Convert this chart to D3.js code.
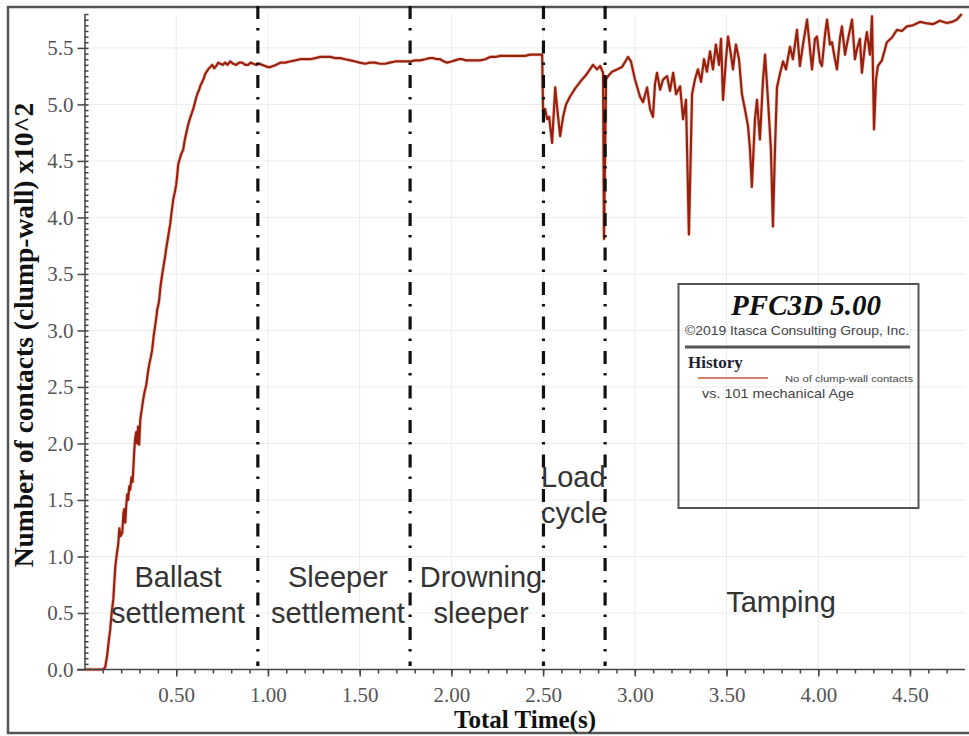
<!DOCTYPE html>
<html>
<head>
<meta charset="utf-8">
<script src="https://cdn.jsdelivr.net/npm/d3@7"></script>
<style>
  html, body { margin: 0; padding: 0; background: #fff; }
  svg { display: block; }
</style>
</head>
<body>
<div id="chart"></div>
<script>
// ---------------- DATA ----------------
const xTicks = [0.5, 1.0, 1.5, 2.0, 2.5, 3.0, 3.5, 4.0, 4.5];
const yTicks = [0.0, 0.5, 1.0, 1.5, 2.0, 2.5, 3.0, 3.5, 4.0, 4.5, 5.0, 5.5];
const phaseTimes = [0.945, 1.775, 2.502, 2.838];
const phaseLabels = [
  ["Ballast", "settlement"],
  ["Sleeper", "settlement"],
  ["Drowning", "sleeper"],
  ["Load", "cycle"],
  ["Tamping"]
];
const legendTitle = "PFC3D 5.00";
const legendCopyright = "\u00A92019 Itasca Consulting Group, Inc.";
const legendHistory = "History";
const legendSeries = "No of clump-wall contacts";
const legendVs = "vs. 101 mechanical Age";
const xTitle = "Total Time(s)";
const yTitle = "Number of contacts (clump-wall) x10^2";

// time (s)
const seriesTime = [
  0, 0.10, 0.113, 0.124, 0.132, 0.140, 0.148, 0.157, 0.163, 0.168, 0.176, 0.184, 0.190, 0.196, 0.206, 0.212,
  0.217, 0.222, 0.228, 0.233, 0.238, 0.244, 0.249, 0.256, 0.262, 0.266, 0.270, 0.276, 0.282, 0.287, 0.292,
  0.298, 0.304, 0.312, 0.320, 0.328, 0.337, 0.345, 0.353, 0.361, 0.369, 0.377, 0.386, 0.392, 0.397, 0.402,
  0.407, 0.415, 0.424, 0.430, 0.435, 0.440, 0.445, 0.455, 0.467, 0.475, 0.484, 0.492, 0.500, 0.506, 0.511,
  0.518, 0.527, 0.538, 0.546, 0.554, 0.565, 0.574, 0.582, 0.593, 0.601, 0.609, 0.617, 0.625, 0.633, 0.642,
  0.650, 0.658, 0.666, 0.674, 0.685, 0.696, 0.707, 0.718, 0.729, 0.740, 0.753, 0.767, 0.780, 0.794, 0.810,
  0.827, 0.843, 0.860, 0.876, 0.892, 0.906, 0.920, 0.936, 0.952, 0.968, 0.985, 1.000, 1.012, 1.028, 1.045,
  1.070, 1.094, 1.120, 1.149, 1.175, 1.203, 1.230, 1.258, 1.285, 1.312, 1.340, 1.367, 1.395, 1.421, 1.450,
  1.476, 1.500, 1.530, 1.556, 1.584, 1.610, 1.639, 1.665, 1.693, 1.720, 1.748, 1.775, 1.802, 1.830, 1.857,
  1.880, 1.901, 1.920, 1.939, 1.960, 1.977, 2.000, 2.020, 2.040, 2.059, 2.080, 2.102, 2.130, 2.157, 2.185,
  2.211, 2.240, 2.266, 2.293, 2.320, 2.348, 2.375, 2.402, 2.429, 2.456, 2.484, 2.495,
  2.500, 2.511, 2.522, 2.533, 2.549, 2.566, 2.576, 2.593, 2.609, 2.625, 2.647, 2.674, 2.702, 2.734, 2.772,
  2.794, 2.811, 2.827, 2.832, 2.843, 2.854, 2.876, 2.903, 2.930, 2.963, 2.979, 3.001, 3.028, 3.045, 3.067,
  3.083, 3.099, 3.110, 3.121, 3.138, 3.154, 3.176, 3.192, 3.209, 3.225, 3.247, 3.263, 3.279, 3.295, 3.312,
  3.328, 3.344, 3.361, 3.377, 3.393, 3.410, 3.426, 3.442, 3.459, 3.470, 3.481, 3.497, 3.508, 3.524, 3.535,
  3.551, 3.568, 3.584, 3.600, 3.617, 3.628, 3.638, 3.655, 3.666, 3.682, 3.699, 3.710, 3.726, 3.742, 3.753,
  3.764, 3.775, 3.791, 3.808, 3.824, 3.846, 3.862, 3.884, 3.900, 3.917, 3.939, 3.955, 3.966, 3.982, 3.993,
  4.009, 4.020, 4.037, 4.048, 4.064, 4.075, 4.091, 4.102, 4.118, 4.129, 4.146, 4.156, 4.173, 4.184, 4.200,
  4.211, 4.227, 4.238, 4.255, 4.265, 4.282, 4.293, 4.304, 4.315, 4.325, 4.347, 4.374, 4.401, 4.429, 4.456,
  4.483, 4.516, 4.554, 4.586, 4.625, 4.663, 4.701, 4.728, 4.755, 4.782
];
// number of clump-wall contacts (x10^2)
const seriesContacts = [
  0, 0, 0.02, 0.13, 0.25, 0.35, 0.50, 0.62, 0.78, 0.91, 1.02, 1.11, 1.25, 1.18, 1.21, 1.38,
  1.42, 1.30, 1.46, 1.55, 1.50, 1.62, 1.59, 1.70, 1.66, 1.77, 1.90, 2.04, 2.10, 2.00, 2.15,
  1.99, 2.21, 2.30, 2.39, 2.46, 2.52, 2.62, 2.70, 2.76, 2.83, 2.95, 3.05, 3.12, 3.19, 3.22,
  3.27, 3.40, 3.50, 3.56, 3.61, 3.66, 3.72, 3.82, 3.94, 4.05, 4.16, 4.22, 4.29, 4.38, 4.47,
  4.51, 4.56, 4.60, 4.68, 4.74, 4.82, 4.87, 4.91, 4.96, 5.01, 5.06, 5.10, 5.13, 5.17, 5.20,
  5.23, 5.27, 5.29, 5.31, 5.33, 5.35, 5.32, 5.34, 5.37, 5.36, 5.35, 5.37, 5.35, 5.38, 5.36,
  5.35, 5.37, 5.37, 5.35, 5.35, 5.37, 5.36, 5.35, 5.36, 5.35, 5.34, 5.33, 5.33, 5.34, 5.35,
  5.37, 5.37, 5.38, 5.39, 5.40, 5.40, 5.40, 5.41, 5.42, 5.42, 5.42, 5.41, 5.41, 5.40, 5.39,
  5.38, 5.37, 5.36, 5.37, 5.37, 5.36, 5.36, 5.37, 5.38, 5.38, 5.38, 5.38, 5.39, 5.39, 5.40,
  5.41, 5.41, 5.40, 5.40, 5.38, 5.37, 5.38, 5.39, 5.40, 5.40, 5.39, 5.39, 5.39, 5.39, 5.40,
  5.42, 5.42, 5.43, 5.43, 5.43, 5.43, 5.43, 5.43, 5.44, 5.44, 5.44, 5.44,
  4.93, 4.96, 4.87, 4.89, 4.66, 5.15, 4.98, 4.72, 4.89, 5.00, 5.07, 5.14, 5.20, 5.26, 5.35,
  5.31, 5.34, 5.28, 3.81, 5.22, 5.25, 5.29, 5.31, 5.33, 5.42, 5.38, 5.22, 5.07, 5.02, 5.15,
  4.96, 4.89, 5.18, 5.28, 5.13, 5.22, 5.25, 5.12, 5.28, 5.09, 5.16, 4.87, 5.04, 3.85, 5.09,
  5.22, 5.31, 5.20, 5.40, 5.29, 5.47, 5.31, 5.53, 5.35, 5.58, 5.04, 5.40, 5.60, 5.44, 5.31,
  5.53, 5.40, 5.09, 4.96, 4.81, 4.60, 4.27, 4.87, 5.04, 4.69, 5.22, 5.44, 5.04, 4.60, 3.92,
  4.60, 5.15, 5.27, 5.38, 5.31, 5.51, 5.40, 5.66, 5.34, 5.53, 5.75, 5.49, 5.31, 5.58, 5.60,
  5.38, 5.34, 5.62, 5.75, 5.53, 5.55, 5.40, 5.31, 5.58, 5.69, 5.44, 5.53, 5.66, 5.75, 5.40,
  5.49, 5.58, 5.28, 5.53, 5.64, 5.44, 5.78, 4.78, 5.22, 5.34, 5.39, 5.55, 5.59, 5.66, 5.65,
  5.69, 5.70, 5.73, 5.72, 5.71, 5.74, 5.72, 5.73, 5.75, 5.80
];

// ---------------- LAYOUT ----------------
const W = 969, H = 736;
const svg = d3.select("#chart").append("svg").attr("width", W).attr("height", H);
const serif = "'Liberation Serif','Times New Roman',serif";
const sans = "'Liberation Sans',Arial,sans-serif";

const x = d3.scaleLinear().domain([0, 4.8]).range([84.5, 965]);
const y = d3.scaleLinear().domain([0, 5.8]).range([669.5, 14]);

// outer frame
svg.append("rect").attr("x", 8).attr("y", 7).attr("width", 970).attr("height", 726)
  .attr("fill", "none").attr("stroke", "#555").attr("stroke-width", 2.5);

// grid
const grid = svg.append("g").attr("stroke", "#ececec").attr("stroke-width", 1);
grid.selectAll("line.gx").data(xTicks).join("line")
  .attr("x1", d => x(d)).attr("x2", d => x(d)).attr("y1", y(5.8)).attr("y2", y(0));
grid.selectAll("line.gy").data(yTicks.filter(d => d > 0)).join("line")
  .attr("x1", x(0)).attr("x2", x(4.8)).attr("y1", d => y(d)).attr("y2", d => y(d));

// legend box (transparent, grid shows through)
const lg = svg.append("g");
lg.append("rect").attr("x", 678.5).attr("y", 284).attr("width", 240).attr("height", 224)
  .attr("fill", "none").attr("stroke", "#555").attr("stroke-width", 2);
lg.append("text").attr("x", 806).attr("y", 315).attr("text-anchor", "middle")
  .attr("font-family", serif).attr("font-weight", "bold").attr("font-style", "italic")
  .attr("font-size", 29).attr("fill", "#111").text(legendTitle);
lg.append("text").attr("x", 797).attr("y", 335).attr("text-anchor", "middle")
  .attr("font-family", sans).attr("font-size", 12.5).attr("fill", "#444")
  .attr("textLength", 224).attr("lengthAdjust", "spacingAndGlyphs").text(legendCopyright);
lg.append("line").attr("x1", 685).attr("x2", 910).attr("y1", 347).attr("y2", 347)
  .attr("stroke", "#555").attr("stroke-width", 3);
lg.append("text").attr("x", 688).attr("y", 368)
  .attr("font-family", serif).attr("font-weight", "bold").attr("font-size", 17)
  .attr("fill", "#1f1f35").text(legendHistory);
lg.append("line").attr("x1", 698).attr("x2", 768).attr("y1", 378).attr("y2", 378)
  .attr("stroke", "#c8583a").attr("stroke-width", 1.6);
lg.append("text").attr("x", 785).attr("y", 382)
  .attr("font-family", sans).attr("font-size", 9.5).attr("fill", "#444")
  .attr("textLength", 128).attr("lengthAdjust", "spacingAndGlyphs").text(legendSeries);
lg.append("text").attr("x", 702).attr("y", 398)
  .attr("font-family", sans).attr("font-size", 13.5).attr("fill", "#444")
  .attr("textLength", 152).attr("lengthAdjust", "spacingAndGlyphs").text(legendVs);

// data line
const data = seriesTime.map((t, i) => ({ t, v: seriesContacts[i] }));
const line = d3.line().x(d => x(d.t)).y(d => y(d.v));
svg.append("path").datum(data).attr("d", line)
  .attr("fill", "none").attr("stroke", "#f0b0a0").attr("stroke-width", 3.8)
  .attr("stroke-linejoin", "round").attr("opacity", 0.6);
svg.append("path").datum(data).attr("d", line)
  .attr("fill", "none").attr("stroke", "#97200f").attr("stroke-width", 2.2)
  .attr("stroke-linejoin", "round");

// phase dash-dot lines
svg.selectAll("line.phase").data(phaseTimes).join("line")
  .attr("x1", d => x(d)).attr("x2", d => x(d)).attr("y1", 6).attr("y2", 666)
  .attr("stroke", "#111").attr("stroke-width", 3.2).attr("stroke-dasharray", "13,9,2.5,10");

// axes
const xAxisG = svg.append("g").attr("transform", `translate(0,${y(0)})`);
xAxisG.call(d3.axisBottom(x).tickValues(d3.range(1, 48).map(i => i / 10)).tickSize(4).tickFormat(""));
xAxisG.call(g => g.select(".domain").remove());
const xMajor = svg.append("g").attr("transform", `translate(0,${y(0)})`)
  .call(d3.axisBottom(x).tickValues(xTicks).tickSize(7).tickSizeOuter(0).tickFormat(d3.format(".2f")));
xMajor.select(".domain").attr("d", `M77,0H965`);
xMajor.selectAll("text").attr("font-family", serif).attr("font-size", 21).attr("fill", "#555").attr("dy", "1.05em");

const yMinor = svg.append("g").attr("transform", `translate(${x(0)},0)`)
  .call(d3.axisRight(y).tickValues(d3.range(1, 117).map(i => i * 0.05)).tickSize(4).tickFormat(""));
yMinor.select(".domain").remove();
const yMajor = svg.append("g").attr("transform", `translate(${x(0)},0)`)
  .call(d3.axisLeft(y).tickValues(yTicks).tickSize(7).tickSizeOuter(0).tickFormat(d3.format(".1f")));
yMajor.selectAll("text").attr("font-family", serif).attr("font-size", 21).attr("fill", "#555").attr("x", -11);

svg.selectAll(".tick line, .domain").attr("stroke", "#444").attr("stroke-width", 1.5);

// axis titles
svg.append("text").attr("x", 525).attr("y", 728).attr("text-anchor", "middle")
  .attr("font-family", serif).attr("font-weight", "bold").attr("font-size", 25).attr("fill", "#111")
  .text(xTitle);
svg.append("text").attr("transform", "translate(33,335) rotate(-90)").attr("text-anchor", "middle")
  .attr("font-family", serif).attr("font-weight", "bold").attr("font-size", 27.5).attr("fill", "#111")
  .text(yTitle);

// phase annotations
const annot = svg.append("g").attr("font-family", sans).attr("font-size", 29).attr("fill", "#333");
const annotPos = [
  { cx: 178, y0: 587, anchor: "middle" },
  { cx: 338, y0: 587, anchor: "middle" },
  { cx: 481, y0: 587, anchor: "middle" },
  { cx: 541, y0: 487, anchor: "start" },
  { cx: 781, y0: 612, anchor: "middle" }
];
phaseLabels.forEach((lines, i) => {
  lines.forEach((s, j) => {
    annot.append("text").attr("x", annotPos[i].cx).attr("y", annotPos[i].y0 + j * 36)
      .attr("text-anchor", annotPos[i].anchor).text(s);
  });
});
</script>
</body>
</html>
